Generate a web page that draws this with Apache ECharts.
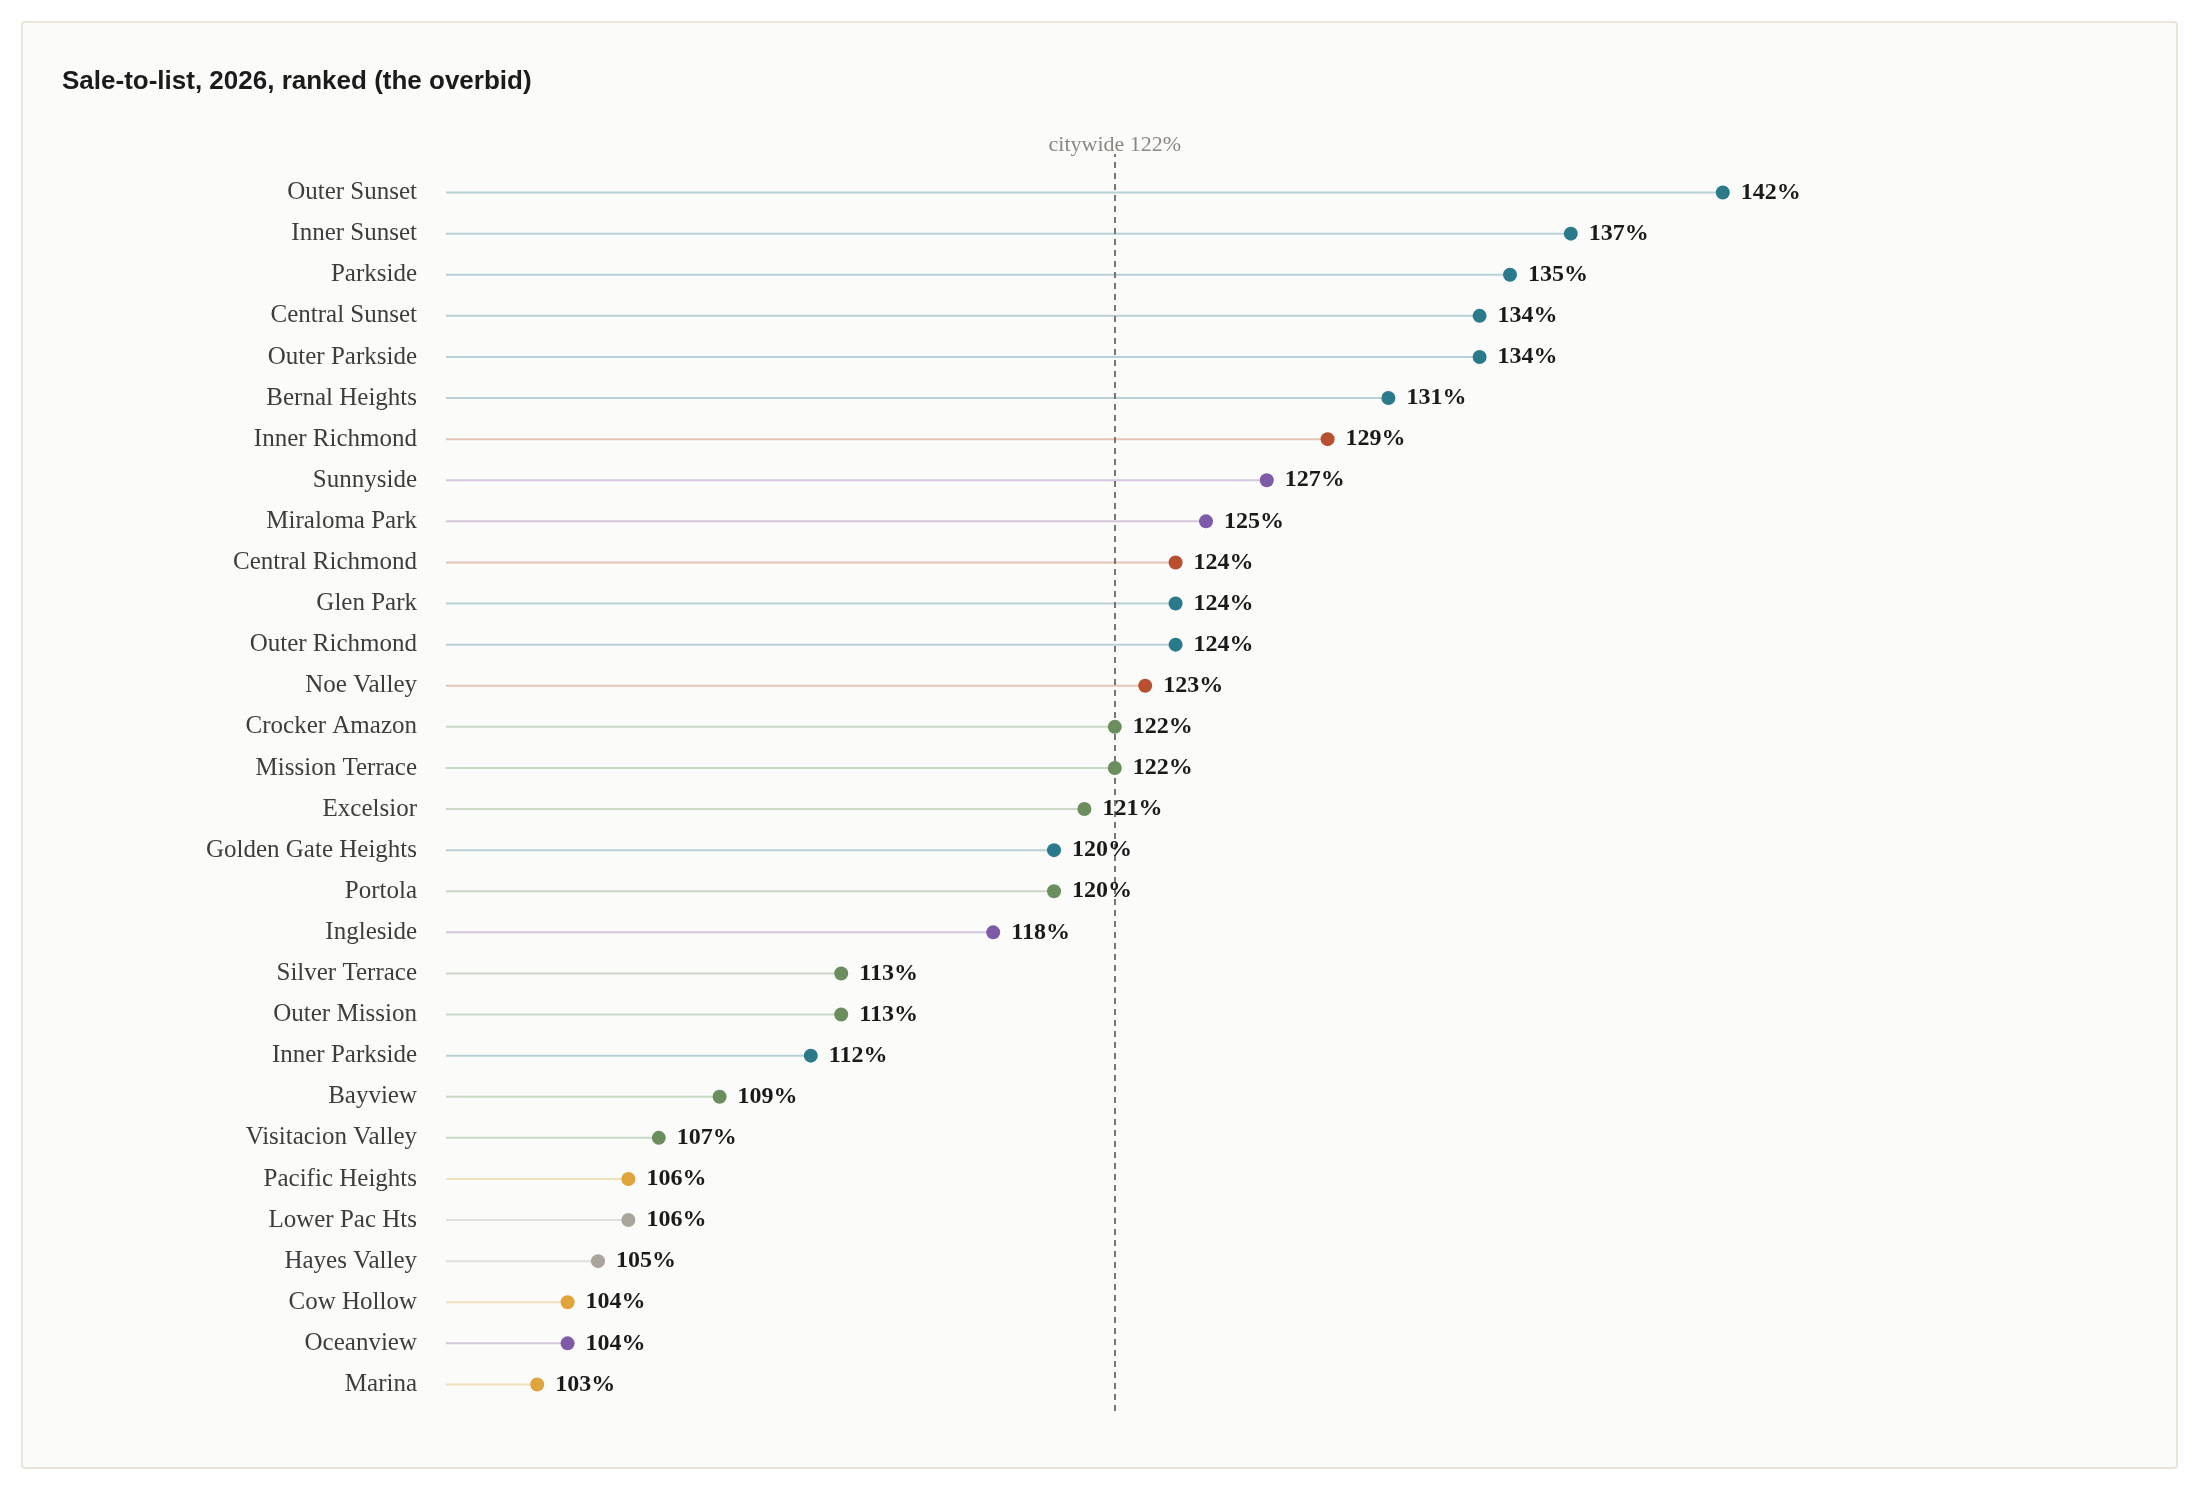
<!DOCTYPE html>
<html>
<head>
<meta charset="utf-8">
<script src="https://cdn.jsdelivr.net/npm/echarts@6/dist/echarts.min.js"></script>
<style>
  html, body { margin: 0; padding: 0; background: #ffffff; }
  #card {
    position: absolute; left: 21px; top: 21px; width: 2153px; height: 1444px;
    border: 2px solid #e9e5dd; border-radius: 4px; background: #fbfbf9;
  }
  #main { position: absolute; left: 0; top: 0; width: 2200px; height: 1490px; }
</style>
</head>
<body>
<div id="card"></div>
<div id="main"></div>
<script>
// neighbourhoods, ranked top to bottom
var names = ['Outer Sunset','Inner Sunset','Parkside','Central Sunset','Outer Parkside',
    'Bernal Heights','Inner Richmond','Sunnyside','Miraloma Park','Central Richmond',
    'Glen Park','Outer Richmond','Noe Valley','Crocker Amazon','Mission Terrace',
    'Excelsior','Golden Gate Heights','Portola','Ingleside','Silver Terrace',
    'Outer Mission','Inner Parkside','Bayview','Visitacion Valley','Pacific Heights',
    'Lower Pac Hts','Hayes Valley','Cow Hollow','Oceanview','Marina'];
// sale-to-list, percent
var saleToList = [142,137,135,134,134,131,129,127,125,124,124,124,123,122,122,
    121,120,120,118,113,113,112,109,107,106,106,105,104,104,103];
// colour group of each row
var groups = ['west','west','west','west','west','west','rich','mid','mid','rich',
    'west','west','rich','south','south','south','west','south','mid','south',
    'south','west','south','south','north','central','central','north','mid','north'];
var citywide = 122;

var groupColors = {
    west: '#2b7a8b',
    rich: '#b8502f',
    mid: '#7d5ba6',
    south: '#6b8e5e',
    north: '#e0a43c',
    central: '#aaa59c'
};

var stems = [];
var dots = [];
for (var i = 0; i < names.length; i++) {
    var c = groupColors[groups[i]];
    stems.push({ value: saleToList[i], itemStyle: { color: c, opacity: 0.32 } });
    dots.push({ value: saleToList[i], itemStyle: { color: c, opacity: 1 } });
}

var chart = echarts.init(document.getElementById('main'));
var option = {
    animation: false,
    title: {
        text: 'Sale-to-list, 2026, ranked (the overbid)',
        left: 57,
        top: 64,
        textStyle: { fontFamily: 'Liberation Sans', fontSize: 26, fontWeight: 'bold', color: '#1b1b1b' }
    },
    grid: [
        { left: 446, width: 1520, top: 172, height: 1233 },
        { left: 446, width: 1520, top: 154, bottom: 79 }
    ],
    xAxis: [
        { type: 'value', gridIndex: 0, min: 100, max: 150, show: false },
        { type: 'value', gridIndex: 1, min: 100, max: 150, show: false }
    ],
    yAxis: [
        {
            type: 'category', gridIndex: 0, inverse: true, data: names,
            axisLine: { show: false }, axisTick: { show: false }, splitLine: { show: false },
            axisLabel: { margin: 29, fontFamily: 'Liberation Serif', fontSize: 25, color: '#3d3d3d' }
        },
        { type: 'value', gridIndex: 1, min: 0, max: 1, show: false }
    ],
    series: [
        {
            type: 'bar', xAxisIndex: 0, yAxisIndex: 0, barWidth: 2, z: 1,
            data: stems
        },
        {
            type: 'line', xAxisIndex: 1, yAxisIndex: 1, data: [], z: 2,
            markLine: {
                silent: true, symbol: 'none', z: 2,
                lineStyle: { color: '#777', width: 2, type: [6, 5] },
                label: {
                    position: 'end', distance: -2,
                    formatter: 'citywide ' + citywide + '%',
                    fontFamily: 'Liberation Serif', fontSize: 22, color: '#8a8782'
                },
                data: [{ xAxis: citywide }]
            }
        },
        {
            type: 'scatter', xAxisIndex: 0, yAxisIndex: 0, symbolSize: 14, z: 10,
            data: dots,
            label: {
                show: true, position: 'right', distance: 11,
                formatter: function (p) { return p.value + '%'; },
                fontFamily: 'Liberation Serif', fontSize: 24, fontWeight: 'bold', color: '#1a1a1a'
            }
        }
    ]
};
chart.setOption(option);
</script>
</body>
</html>
